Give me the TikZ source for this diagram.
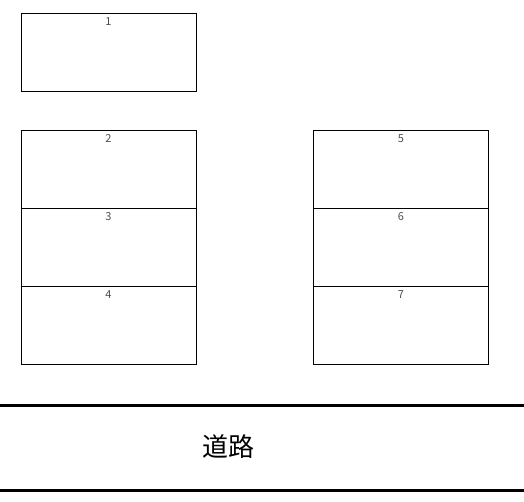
\documentclass[tikz,border=0pt]{standalone}
\usepackage{fontspec}
\newfontfamily\cjk{Noto Sans CJK JP}
\usetikzlibrary{positioning}

\begin{document}
\begin{tikzpicture}[
        x=1pt, y=-1pt,
        lot/.style = {
            draw,
            line width=1pt,
            minimum width=175pt,
            minimum height=78pt,
            outer sep=0pt,
            inner sep=0pt
        },
        num/.style = {
            anchor=north,
            inner sep=4.5pt,
            text=black!70,
            font=\cjk\fontsize{11}{12}\selectfont
        },
        road/.style = {
            line width=3pt
        },
        node distance=0pt
    ]
        \useasboundingbox (0,0) rectangle (524,501);

        \node [lot, label={[num]north:1}]  (lot1)  at (108.5,52)  {};
        \node [lot, label={[num]north:2}]  (lot2)  at (108.5,169) {};
        \node [lot, label={[num]north:3}]  (lot3)  [below=of lot2] {};
        \node [lot, label={[num]north:4}]  (lot4)  [below=of lot3] {};
        \node [lot, label={[num]north:5}]  (lot5)  at (401,169)   {};
        \node [lot, label={[num]north:6}]  (lot6)  [below=of lot5] {};
        \node [lot, label={[num]north:7}]  (lot7)  [below=of lot6] {};

        % road
        \coordinate (roadTL) at (0,405.5);
        \coordinate (roadTR) at (524,405.5);
        \coordinate (roadBL) at (0,490.5);
        \coordinate (roadBR) at (524,490.5);
        \draw [road] (roadTL) -- (roadTR);
        \draw [road] (roadBL) -- (roadBR);
        \node [font=\cjk\fontsize{26}{28}\selectfont] (roadname) at (228,447) {道路};
    \end{tikzpicture}
\end{document}
